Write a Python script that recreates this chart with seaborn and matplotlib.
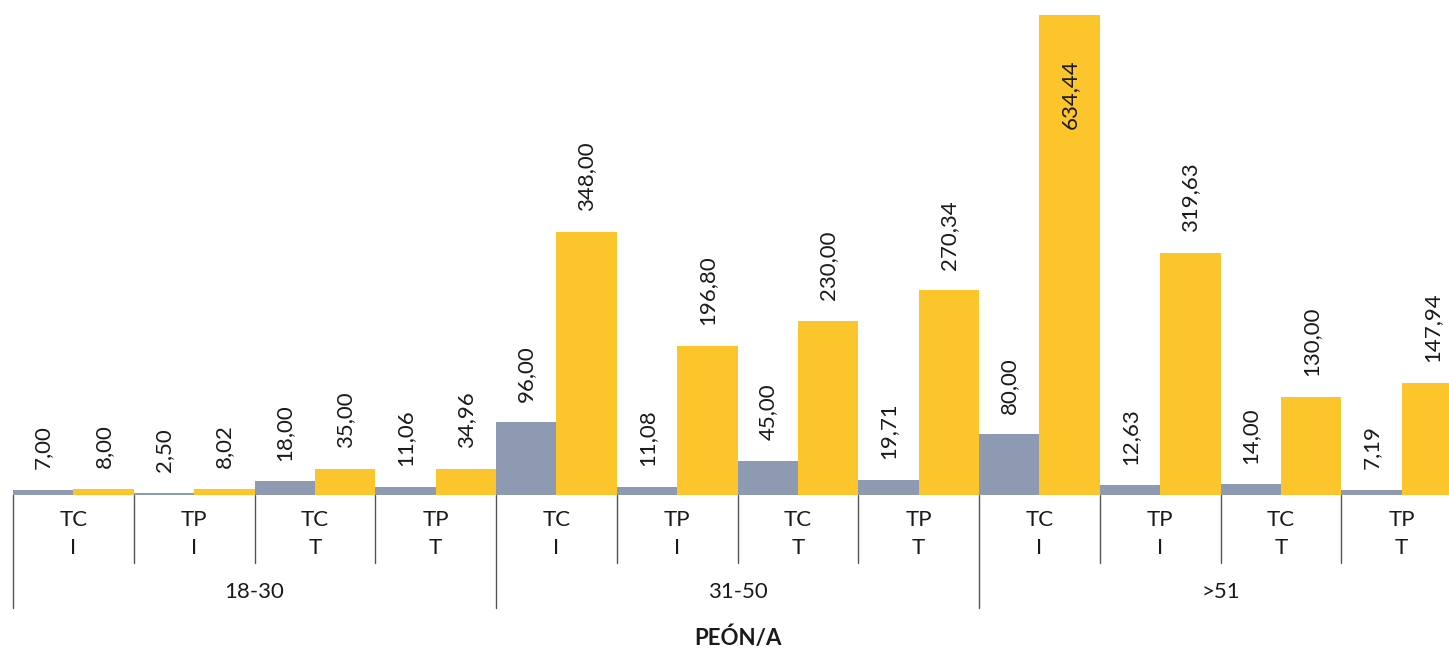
import numpy as np
import pandas as pd
import matplotlib
matplotlib.use("Agg")
import matplotlib.pyplot as plt
import seaborn as sns

# ---------------------------------------------------------------------------
# DATA
# ---------------------------------------------------------------------------
GROUPS = ["18-30", "31-50", ">51"]
SUBCATS = ["TC\nI", "TP\nI", "TC\nT", "TP\nT"]
SERIES = ["gris", "amarillo"]
GREY_VALUES = [7.00, 2.50, 18.00, 11.06, 96.00, 11.08, 45.00, 19.71, 80.00, 12.63, 14.00, 7.19]
YELLOW_VALUES = [8.00, 8.02, 35.00, 34.96, 348.00, 196.80, 230.00, 270.34, 634.44, 319.63, 130.00, 147.94]
X_TITLE = "PEÓN/A"

GREY = "#8e99b2"
YELLOW = "#fdc52c"
LINE = "#555555"

# long table for seaborn
cats = [f"{g} {s}" for g in GROUPS for s in SUBCATS]
df = pd.DataFrame({
    "cat": cats * 2,
    "serie": [SERIES[0]] * len(cats) + [SERIES[1]] * len(cats),
    "val": GREY_VALUES + YELLOW_VALUES,
})

sns.set_theme(style="white")
plt.rcParams["font.family"] = ["Lato", "DejaVu Sans"]

fig = plt.figure(figsize=(14.49, 6.51), dpi=100)
# the plot area runs a little past the right edge of the picture (last bar is cut)
ax = fig.add_axes([13 / 1449, 156 / 651, 1449 / 1449, 495 / 651])

sns.barplot(data=df, x="cat", y="val", hue="serie", order=cats,
            hue_order=SERIES, palette=[GREY, YELLOW], width=1.0,
            saturation=1, legend=False, linewidth=0, ax=ax)

ax.set_xlim(-0.5, len(cats) - 0.5)
ax.set_ylim(0, 654.3)
sns.despine(ax=ax, left=True, bottom=True)
ax.set_yticks([])
ax.set_ylabel("")
ax.set_xlabel("")

# value labels
ymax = ax.get_ylim()[1]
for cont in ax.containers:
    for bar in cont:
        h = bar.get_height()
        x = bar.get_x() + bar.get_width() / 2
        txt = f"{h:.2f}".replace(".", ",")
        if h > 0.8 * ymax:
            ax.annotate(txt, (x, h), xytext=(0, -32), textcoords="offset points",
                        rotation=90, ha="center", va="top", fontsize=16, color="#1a1a1a")
        else:
            ax.annotate(txt, (x, h), xytext=(0, 15), textcoords="offset points",
                        rotation=90, ha="center", va="bottom", fontsize=16, color="#1a1a1a")

# sub-category tick labels
ax.set_xticks(range(len(cats)))
ax.set_xticklabels(SUBCATS * len(GROUPS), fontsize=16, color="#1a1a1a", linespacing=1.5)
ax.tick_params(axis="x", length=0, pad=11)

# separators
trans = ax.get_xaxis_transform()
n_sub = len(SUBCATS)
for i in range(len(cats) + 1):
    xpos = i - 0.5
    if i % n_sub == 0:
        ax.plot([xpos, xpos], [0, -0.228], transform=trans, color=LINE, lw=1, clip_on=False)
    else:
        ax.plot([xpos, xpos], [0, -0.137], transform=trans, color=LINE, lw=1, clip_on=False)

# group labels
for gi, g in enumerate(GROUPS):
    xc = gi * n_sub + (n_sub - 1) / 2
    ax.text(xc, -0.196, g, transform=trans, ha="center", va="center",
            fontsize=16, color="#1a1a1a")

ax.text(0.5 * (len(cats) - 1), -0.289, X_TITLE, transform=trans, ha="center",
        va="center", fontsize=16, fontweight="bold", color="#1a1a1a")

fig.savefig("out.png", dpi=100)
